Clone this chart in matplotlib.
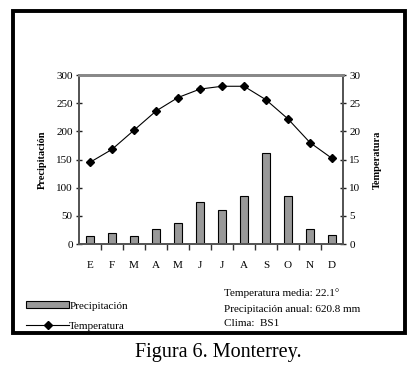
"""
Climograma de Monterrey: precipitación mensual (barras) y temperatura media (línea).
"""

import matplotlib
matplotlib.use('Agg')
import numpy as np
import matplotlib.pyplot as plt
from matplotlib.patches import Rectangle

# ---------------------------------------------------------------------------
# Data
# ---------------------------------------------------------------------------
MONTHS = ['E', 'F', 'M', 'A', 'M', 'J', 'J', 'A', 'S', 'O', 'N', 'D']
PRECIP = [15, 19, 14, 26, 38, 74, 60, 86, 161, 86, 26, 16]
TEMP = [14.5, 16.8, 20.2, 23.6, 26.0, 27.5, 28.0, 28.0, 25.6, 22.2, 18.0, 15.2]
INFO_LINES = ['Temperatura media: 22.1°',
              'Precipitación anual: 620.8 mm',
              'Clima:  BS1']
CAPTION = 'Figura 6. Monterrey.'

W, H = 419, 374
SERIF = ['Liberation Serif', 'DejaVu Serif']


def fx(px):
    return px / W


def fy(py):
    return 1 - py / H


def main():
    plt.rcParams['font.family'] = SERIF
    fig = plt.figure(figsize=(W / 100, H / 100), dpi=100)

    # plot area in pixels: x 79..343, y 75..244
    ax = fig.add_axes([fx(79), fy(244), (343 - 79) / W, (244 - 75) / H])
    ax2 = ax.twinx()

    x = np.arange(len(MONTHS)) + 0.5
    bars = ax.bar(x, PRECIP, width=0.38, color='#999999',
                  edgecolor='black', linewidth=0.8, label='Precipitación',
                  zorder=2)
    line, = ax2.plot(x, TEMP, color='black', lw=0.8, marker='D',
                     markersize=4.2, label='Temperatura', zorder=3)

    ax.set_xlim(0, 12)
    ax.set_ylim(0, 300)
    ax.set_yticks(np.arange(0, 301, 50))
    ax2.set_ylim(0, 30)
    ax2.set_yticks(np.arange(0, 31, 5))

    # month labels between boundary ticks
    ax.set_xticks(np.arange(1, 12))
    ax.set_xticklabels([])
    ax.set_xticks(x, minor=True)
    ax.set_xticklabels(MONTHS, minor=True, fontsize=8)
    ax.tick_params(axis='x', which='minor', length=0, pad=12)
    ax.tick_params(axis='x', which='major', direction='out', length=4,
                   width=1, color='#333333')

    spine_col = '#555555'
    for a in (ax, ax2):
        a.spines['top'].set_color('#888888')
        a.spines['top'].set_linewidth(2)
        for s in ('left', 'right', 'bottom'):
            a.spines[s].set_color(spine_col)
            a.spines[s].set_linewidth(1.3)

    ax.tick_params(axis='y', direction='inout', length=5, width=1,
                   color='#222222', labelsize=8, pad=2)
    ax2.tick_params(axis='y', direction='inout', length=5, width=1,
                    color='#222222', labelsize=8, pad=2)

    ax.set_ylabel('Precipitación', fontsize=7.5, fontweight='bold', labelpad=7)
    ax2.set_ylabel('Temperatura', fontsize=7.5, fontweight='bold', labelpad=9)

    # legend
    fig.legend(handles=[bars, line], loc='upper left',
               bbox_to_anchor=(fx(22), fy(297)), frameon=False,
               fontsize=8, handlelength=3.8, handleheight=0.55,
               handletextpad=0.05, labelspacing=0.95, borderaxespad=0)

    # climate summary
    for yy, txt in zip([293, 309, 323], INFO_LINES):
        fig.text(fx(224), fy(yy), txt, fontsize=8, va='center', ha='left')

    # outer frame
    fig.add_artist(Rectangle((fx(13), fy(332.5)), fx(405) - fx(13),
                             fy(10.5) - fy(332.5), transform=fig.transFigure,
                             fill=False, lw=2.8, edgecolor='black'))

    fig.text(fx(218), fy(353), CAPTION, fontsize=14.5, ha='center', va='center')

    fig.savefig('out.png', dpi=100)
    plt.close(fig)


if __name__ == '__main__':
    main()
